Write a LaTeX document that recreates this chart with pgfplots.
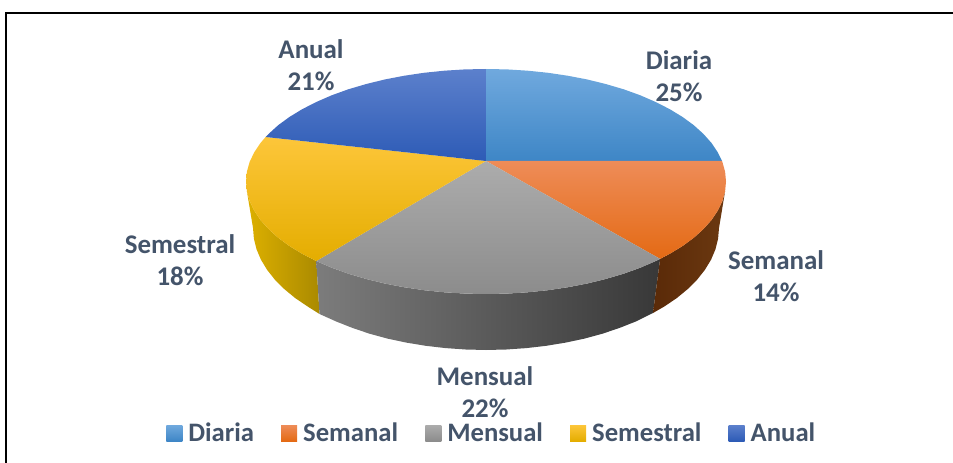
\documentclass[border=0pt]{standalone}
\usepackage{fontspec}
\setmainfont{Carlito}
\usepackage{pgfplots}
\pgfplotsset{compat=1.18}
\definecolor{lab}{HTML}{44546A}
\definecolor{wallYa}{HTML}{DDB000}
\definecolor{wallYb}{HTML}{AA8A00}
\definecolor{wallGa}{HTML}{7C7C7C}
\definecolor{wallGb}{HTML}{4C4C4C}
\definecolor{wallGc}{HTML}{383838}
\definecolor{wallOa}{HTML}{5A2A08}
\definecolor{wallOb}{HTML}{6B3810}
\definecolor{blueA}{HTML}{70A9DE}
\definecolor{blueB}{HTML}{3E86C6}
\definecolor{orgA}{HTML}{EE8C58}
\definecolor{orgB}{HTML}{F47B28}
\definecolor{orgC}{HTML}{E46A14}
\definecolor{grayA}{HTML}{ACACAC}
\definecolor{grayB}{HTML}{8C8C8C}
\definecolor{yelA}{HTML}{FDC63A}
\definecolor{yelB}{HTML}{FFC000}
\definecolor{yelC}{HTML}{E4AD00}
\definecolor{navA}{HTML}{5C80CC}
\definecolor{navB}{HTML}{2D5BB6}
% axis units are pixels of the reference
\tikzset{lbl/.style={font=\fontsize{20.2}{24}\selectfont\bfseries, text=lab, align=center, inner sep=0pt}}
\begin{document}
\begin{tikzpicture}
\path[use as bounding box] (0,0) rectangle (714.75pt,347.25pt);
\begin{axis}[
    scale only axis, width=714.75pt, height=347.25pt,
    xmin=0, xmax=953, ymin=0, ymax=463, y dir=reverse,
    hide axis, enlargelimits=false,
    legend columns=-1,
    legend image code/.code={\path[#1] (0pt,-6pt) rectangle (12pt,6pt);},
    legend style={at={(axis cs:166,433)}, anchor=west, draw=none, fill=none,
        inner sep=0pt, font=\fontsize{20}{24}\selectfont\bfseries, text=lab,
        nodes={inner xsep=0pt, inner ysep=0pt},
        /tikz/every odd column/.append style={column sep=4.5pt},
        /tikz/every even column/.append style={column sep=20.4pt}},
]
% frame
\addplot[black, line width=1.1pt, forget plot] coordinates {(953,13) (6,13) (6,463)};

% side walls
\addplot[draw=none, left color=wallYa, right color=wallYb, forget plot] coordinates {
 (246.9,191.3) (249.6,201.0) (254.2,210.6) (260.5,220.0) (268.5,229.0) (278.2,237.8) (289.4,246.0) (302.2,253.8) (316.3,261.05)
 (319.5,314) (307.5,306.4) (295.1,298) (284.2,289) (274.8,279.6) (267,269.7) (260.9,259.6) (256.5,249.2) (253.9,238.6) (253,228)
} -- cycle;
\addplot[draw=none, left color=wallGa, middle color=wallGb, right color=wallGc, forget plot] coordinates {
 (316.3,261.05) (331.7,267.7) (348.3,273.7) (366,278.9) (384.6,283.5) (403.9,287.2) (423.9,290.2) (444.3,292.3) (465.1,293.6) (486,294)
 (506.9,293.6) (527.7,292.3) (548.1,290.2) (568.1,287.2) (587.4,283.5) (606,278.9) (623.7,273.7) (640.3,267.7) (655.7,261.05) (660.1,258.9)
 (653,313) (635.8,321.5) (619.6,327.9) (602.5,333.7) (584.5,338.6) (565.7,342.6) (546.3,345.8) (526.4,348.1) (506.3,349.5) (486,350)
 (465.7,349.5) (445.6,348.1) (425.7,345.8) (406.3,342.6) (387.5,338.6) (369.5,333.7) (352.4,327.9) (336.2,321.5) (319.5,314)
} -- cycle;
\addplot[draw=none, left color=wallOa, right color=wallOb, forget plot] coordinates {
 (660.1,258.9) (669.8,253.8) (682.6,246.0) (693.8,237.8) (703.5,229.0) (711.5,220.0) (717.8,210.6) (722.4,201.0) (725.1,191.3)
 (719,228) (718.1,238.6) (715.5,249.2) (711.1,259.6) (705,269.7) (697.2,279.6) (687.8,289) (676.9,298) (664.5,306.4) (653,313)
} -- cycle;

% top face slices: Diaria 25, Semanal 14, Mensual 22, Semestral 18, Anual 21
\addplot[draw=none, top color=blueA, bottom color=blueB] coordinates {
 (486,161) (486,69) (506.9,69.4) (527.7,70.7) (548.1,72.8) (568.1,75.8) (587.4,79.5) (606,84.1) (623.7,89.3) (640.3,95.3)
 (655.7,102.0) (669.8,109.2) (682.6,117.0) (693.8,125.2) (703.5,134.0) (711.5,143.0) (717.8,152.4) (722,161)
} -- cycle;
\addlegendentry{Diaria}
\addplot[draw=none, top color=orgA, middle color=orgB, bottom color=orgC] coordinates {
 (486,161) (722,161) (722.4,162.0) (725.1,171.7) (726,181.5) (725.1,191.3) (722.4,201.0) (717.8,210.6) (711.5,220.0)
 (703.5,229.0) (693.8,237.8) (682.6,246.0) (669.8,253.8) (660.1,258.9)
} -- cycle;
\addlegendentry{Semanal}
\addplot[draw=none, top color=grayA, bottom color=grayB] coordinates {
 (486,161) (660.1,258.9) (655.7,261.05) (640.3,267.7) (623.7,273.7) (606,278.9) (587.4,283.5) (568.1,287.2) (548.1,290.2) (527.7,292.3)
 (506.9,293.6) (486,294) (465.1,293.6) (444.3,292.3) (423.9,290.2) (403.9,287.2) (384.6,283.5) (366,278.9) (348.3,273.7) (331.7,267.7) (316.3,261.05)
} -- cycle;
\addlegendentry{Mensual}
\addplot[draw=none, top color=yelA, middle color=yelB, bottom color=yelC] coordinates {
 (486,161) (316.3,261.05) (302.2,253.8) (289.4,246.0) (278.2,237.8) (268.5,229.0) (260.5,220.0) (254.2,210.6) (249.6,201.0) (246.9,191.3)
 (246,181.5) (246.9,171.7) (249.6,162.0) (254.2,152.4) (260.5,143.0) (265.6,137.0)
} -- cycle;
\addlegendentry{Semestral}
\addplot[draw=none, top color=navA, bottom color=navB] coordinates {
 (486,161) (265.6,137.0) (268.5,134.0) (278.2,125.2) (289.4,117.0) (302.2,109.2) (316.3,102.0) (331.7,95.3) (348.3,89.3) (366,84.1)
 (384.6,79.5) (403.9,75.8) (423.9,72.8) (444.3,70.7) (465.1,69.4) (486,69)
} -- cycle;
\addlegendentry{Anual}

\node[lbl] at (axis cs:311,65) {Anual\\21\%};
\node[lbl] at (axis cs:679,76) {Diaria\\25\%};
\node[lbl] at (axis cs:776,276) {Semanal\\14\%};
\node[lbl] at (axis cs:180,260) {Semestral\\18\%};
\node[lbl] at (axis cs:485,392) {Mensual\\22\%};
\end{axis}
\end{tikzpicture}
\end{document}
